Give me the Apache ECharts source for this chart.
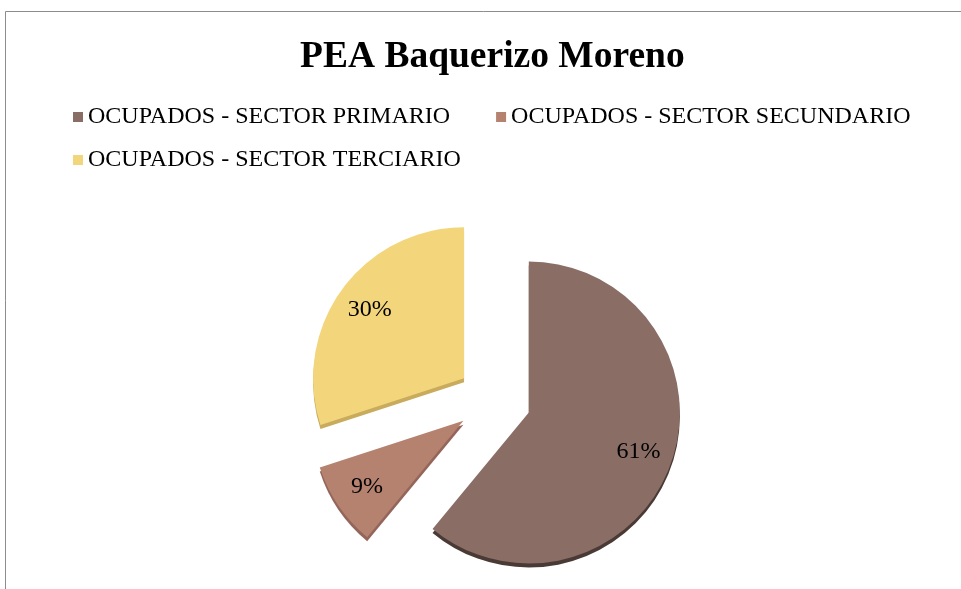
<!DOCTYPE html>
<html>
<head>
<meta charset="utf-8">
<script src="https://cdn.jsdelivr.net/npm/echarts@6/dist/echarts.min.js"></script>
<style>
  html, body { margin: 0; padding: 0; background: #fff; }
  #main { width: 961px; height: 589px; }
</style>
</head>
<body>
<div id="main"></div>
<script>
// datos de la PEA
var titulo = 'PEA Baquerizo Moreno';
var categorias = ['OCUPADOS - SECTOR PRIMARIO', 'OCUPADOS - SECTOR SECUNDARIO', 'OCUPADOS - SECTOR TERCIARIO'];
var valores = [61, 9, 30];

var colores = ['#8a6e66', '#b5826f', '#f3d67c'];
var coloresLado = ['#4a3a35', '#94655a', '#c8ab5c'];
var fuente = "'Liberation Serif', 'Times New Roman', serif";

var chart = echarts.init(document.getElementById('main'), null, {renderer: 'canvas'});

function datos(cols) {
    var out = [];
    for (var i = 0; i < categorias.length; i++) {
        out.push({
            name: categorias[i],
            value: valores[i],
            selected: true,
            itemStyle: {color: cols ? cols[i] : 'rgba(0,0,0,0)'}
        });
    }
    return out;
}

function leyenda(idx) {
    return idx.map(function (i) {
        return {name: categorias[i], itemStyle: {color: colores[i]}};
    });
}

var base = {
    type: 'pie',
    startAngle: 90,
    clockwise: true,
    selectedMode: 'multiple',
    selectedOffset: 37,
    animation: false,
    emphasis: {disabled: true},
    select: {itemStyle: {}},
    labelLine: {show: false}
};

var estiloLeyenda = {
    padding: 0,
    icon: 'rect',
    itemWidth: 10,
    itemHeight: 10,
    selectedMode: false,
    textStyle: {fontFamily: fuente, fontSize: 24, color: '#000'}
};

var option = {
    backgroundColor: '#fff',
    title: {
        text: titulo,
        left: 300,
        top: 38,
        padding: 0,
        textStyle: {fontFamily: fuente, fontSize: 37.5, fontWeight: 'bold', color: '#000'}
    },
    legend: [
        Object.assign({}, estiloLeyenda, {
            data: leyenda([0, 1]),
            left: 73,
            top: 105,
            itemGap: 46
        }),
        Object.assign({}, estiloLeyenda, {
            data: leyenda([2]),
            left: 73,
            top: 148
        })
    ],
    graphic: [{
        type: 'rect',
        silent: true,
        shape: {x: 5.5, y: 11.5, width: 1200, height: 1000},
        style: {fill: 'none', stroke: '#8c8c8c', lineWidth: 1}
    }],
    series: [
        // lado "3D"
        Object.assign({}, base, {
            name: 'lado',
            center: [494, 404],
            radius: [0, 151],
            silent: true,
            z: 1,
            label: {show: false},
            data: datos(coloresLado)
        }),
        Object.assign({}, base, {
            name: 'PEA',
            center: [494, 400],
            radius: [0, 151],
            z: 2,
            label: {show: false},
            data: datos(colores)
        }),
        // capa para las etiquetas
        Object.assign({}, base, {
            name: 'etiquetas',
            center: [494, 400],
            radius: [76, 151],
            silent: true,
            z: 3,
            label: {
                show: true,
                position: 'inside',
                formatter: function (p) { return Math.round(p.percent) + '%'; },
                fontFamily: fuente,
                fontSize: 24,
                color: '#000'
            },
            data: datos(null)
        })
    ]
};

chart.setOption(option);
</script>
</body>
</html>
